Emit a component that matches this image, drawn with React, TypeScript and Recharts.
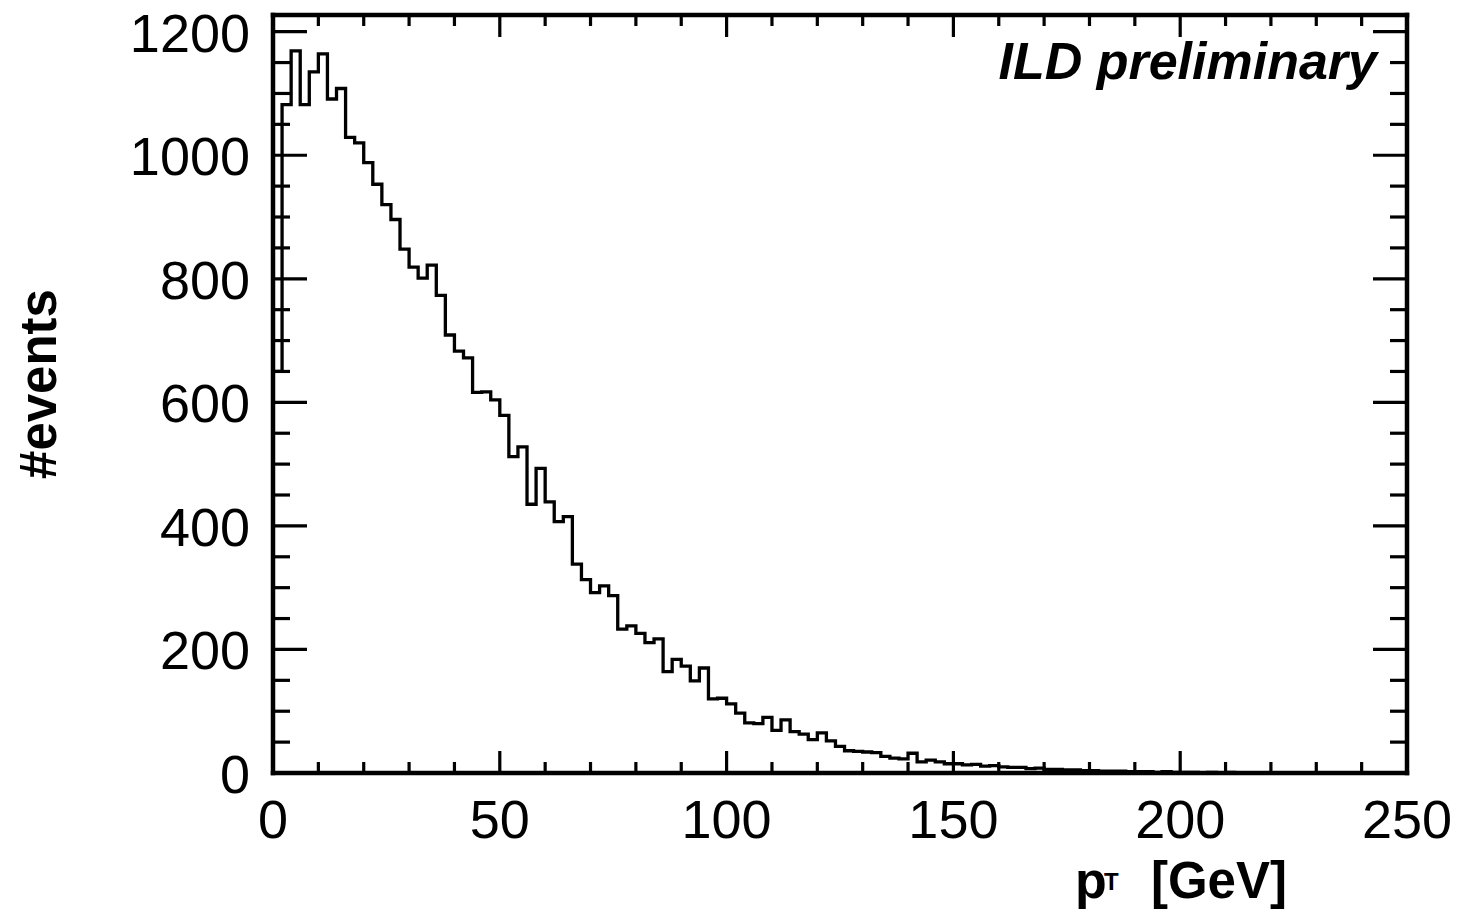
import { LineChart, Line, XAxis, YAxis } from "recharts";

// pT spectrum, 2 GeV bins from 0 to 250 GeV
const binWidth = 2;
const counts = [
  650, 1082, 1169, 1082, 1135, 1164, 1091, 1108, 1029, 1020,
  988, 953, 920, 896, 848, 819, 801, 822, 773, 709,
  683, 672, 616, 617, 604, 579, 512, 528, 435, 493,
  439, 407, 415, 338, 313, 292, 303, 287, 233, 238,
  226, 211, 217, 164, 184, 173, 149, 170, 120, 121,
  112, 97, 81, 80, 90, 69, 86, 67, 63, 54,
  65, 52, 43, 36, 35, 34, 33, 27, 24, 23,
  32, 18, 21, 18, 15, 15, 13, 14, 11, 12,
  10, 9, 9, 7, 8, 6, 6, 5, 5, 4,
  4, 3, 3, 3, 2, 2, 2, 1, 2, 1,
  1, 1, 0, 1, 0, 1, 0, 0, 0, 0,
  0, 0, 0, 0, 0, 0, 0, 0, 0, 0,
  0, 0, 0, 0, 0,
];

const xTicks = [0, 10, 20, 30, 40, 50, 60, 70, 80, 90, 100, 110, 120, 130, 140, 150, 160, 170, 180, 190, 200, 210, 220, 230, 240, 250];
const xMajor = [0, 50, 100, 150, 200, 250];
const yTicks = [0, 50, 100, 150, 200, 250, 300, 350, 400, 450, 500, 550, 600, 650, 700, 750, 800, 850, 900, 950, 1000, 1050, 1100, 1150, 1200];
const yMajor = [0, 200, 400, 600, 800, 1000, 1200];

const FONT = "'Liberation Sans', Arial, Helvetica, sans-serif";

const data = counts.map((c, i) => ({ x: i * binWidth, n: c }));
data.push({ x: counts.length * binWidth, n: counts[counts.length - 1] });

const axisLine = { stroke: "#000", strokeWidth: 4.5, strokeLinecap: "square" as const };

function XTick({ x, y, payload, top }: any) {
  const major = xMajor.includes(payload.value);
  const len = major ? 22 : 11;
  const dir = top ? 1 : -1;
  return (
    <g>
      <line x1={x} x2={x} y1={y} y2={y + dir * len} stroke="#000" strokeWidth={3.2} />
      {!top && major && (
        <text x={x} y={y + 65} textAnchor="middle" fontFamily={FONT} fontSize={54} fill="#000">
          {payload.value}
        </text>
      )}
    </g>
  );
}

function YTick({ x, y, payload, right }: any) {
  const major = yMajor.includes(payload.value);
  const len = major ? 34 : 17;
  const dir = right ? -1 : 1;
  return (
    <g>
      <line x1={x} x2={x + dir * len} y1={y} y2={y} stroke="#000" strokeWidth={3.2} />
      {!right && major && (
        <text x={x - 23} y={y + 20} textAnchor="end" fontFamily={FONT} fontSize={54} fill="#000">
          {payload.value}
        </text>
      )}
    </g>
  );
}

export default function App() {
  return (
    <div style={{ position: "absolute", left: 0, top: 0, width: 1460, height: 910, background: "#fff" }}>
      <LineChart
        width={1460}
        height={910}
        data={data}
        margin={{ left: 272, right: 52, top: 14, bottom: 136 }}
      >
        <XAxis
          xAxisId="b"
          dataKey="x"
          type="number"
          domain={[0, 250]}
          allowDataOverflow
          ticks={xTicks}
          interval={0}
          height={1}
          tickSize={0}
          tickMargin={0}
          tickLine={false}
          axisLine={axisLine}
          tick={<XTick />}
        />
        <XAxis
          xAxisId="t"
          orientation="top"
          dataKey="x"
          type="number"
          domain={[0, 250]}
          allowDataOverflow
          ticks={xTicks}
          interval={0}
          height={1}
          tickSize={0}
          tickMargin={0}
          tickLine={false}
          axisLine={axisLine}
          tick={<XTick top />}
        />
        <YAxis
          yAxisId="l"
          type="number"
          domain={[0, 1227]}
          allowDataOverflow
          ticks={yTicks}
          interval={0}
          width={1}
          tickSize={0}
          tickMargin={0}
          tickLine={false}
          axisLine={axisLine}
          tick={<YTick />}
        />
        <YAxis
          yAxisId="r"
          orientation="right"
          type="number"
          domain={[0, 1227]}
          allowDataOverflow
          ticks={yTicks}
          interval={0}
          width={1}
          tickSize={0}
          tickMargin={0}
          tickLine={false}
          axisLine={axisLine}
          tick={<YTick right />}
        />
        <Line
          xAxisId="b"
          yAxisId="l"
          type="stepAfter"
          dataKey="n"
          stroke="#000"
          strokeWidth={3.3}
          dot={false}
          activeDot={false}
          isAnimationActive={false}
        />
      </LineChart>
      <svg
        width={1460}
        height={910}
        style={{ position: "absolute", left: 0, top: 0, pointerEvents: "none" }}
      >
        <text x={1377} y={79} textAnchor="end" fontFamily={FONT} fontSize={52} fontWeight="bold" fontStyle="italic" fill="#000">
          ILD preliminary
        </text>
        <text
          x={56}
          y={384}
          textAnchor="middle"
          transform="rotate(-90 56 384)"
          fontFamily={FONT}
          fontSize={51}
          fontWeight="bold"
          fill="#000"
        >
          #events
        </text>
        <text x={1075} y={898} fontFamily={FONT} fontSize={52} fontWeight="bold" fill="#000">
          p
        </text>
        <text x={1104} y={890} fontFamily={FONT} fontSize={24} fontWeight="bold" fill="#000">
          T
        </text>
        <text x={1287} y={898} textAnchor="end" fontFamily={FONT} fontSize={51} fontWeight="bold" fill="#000">
          [GeV]
        </text>
      </svg>
    </div>
  );
}
